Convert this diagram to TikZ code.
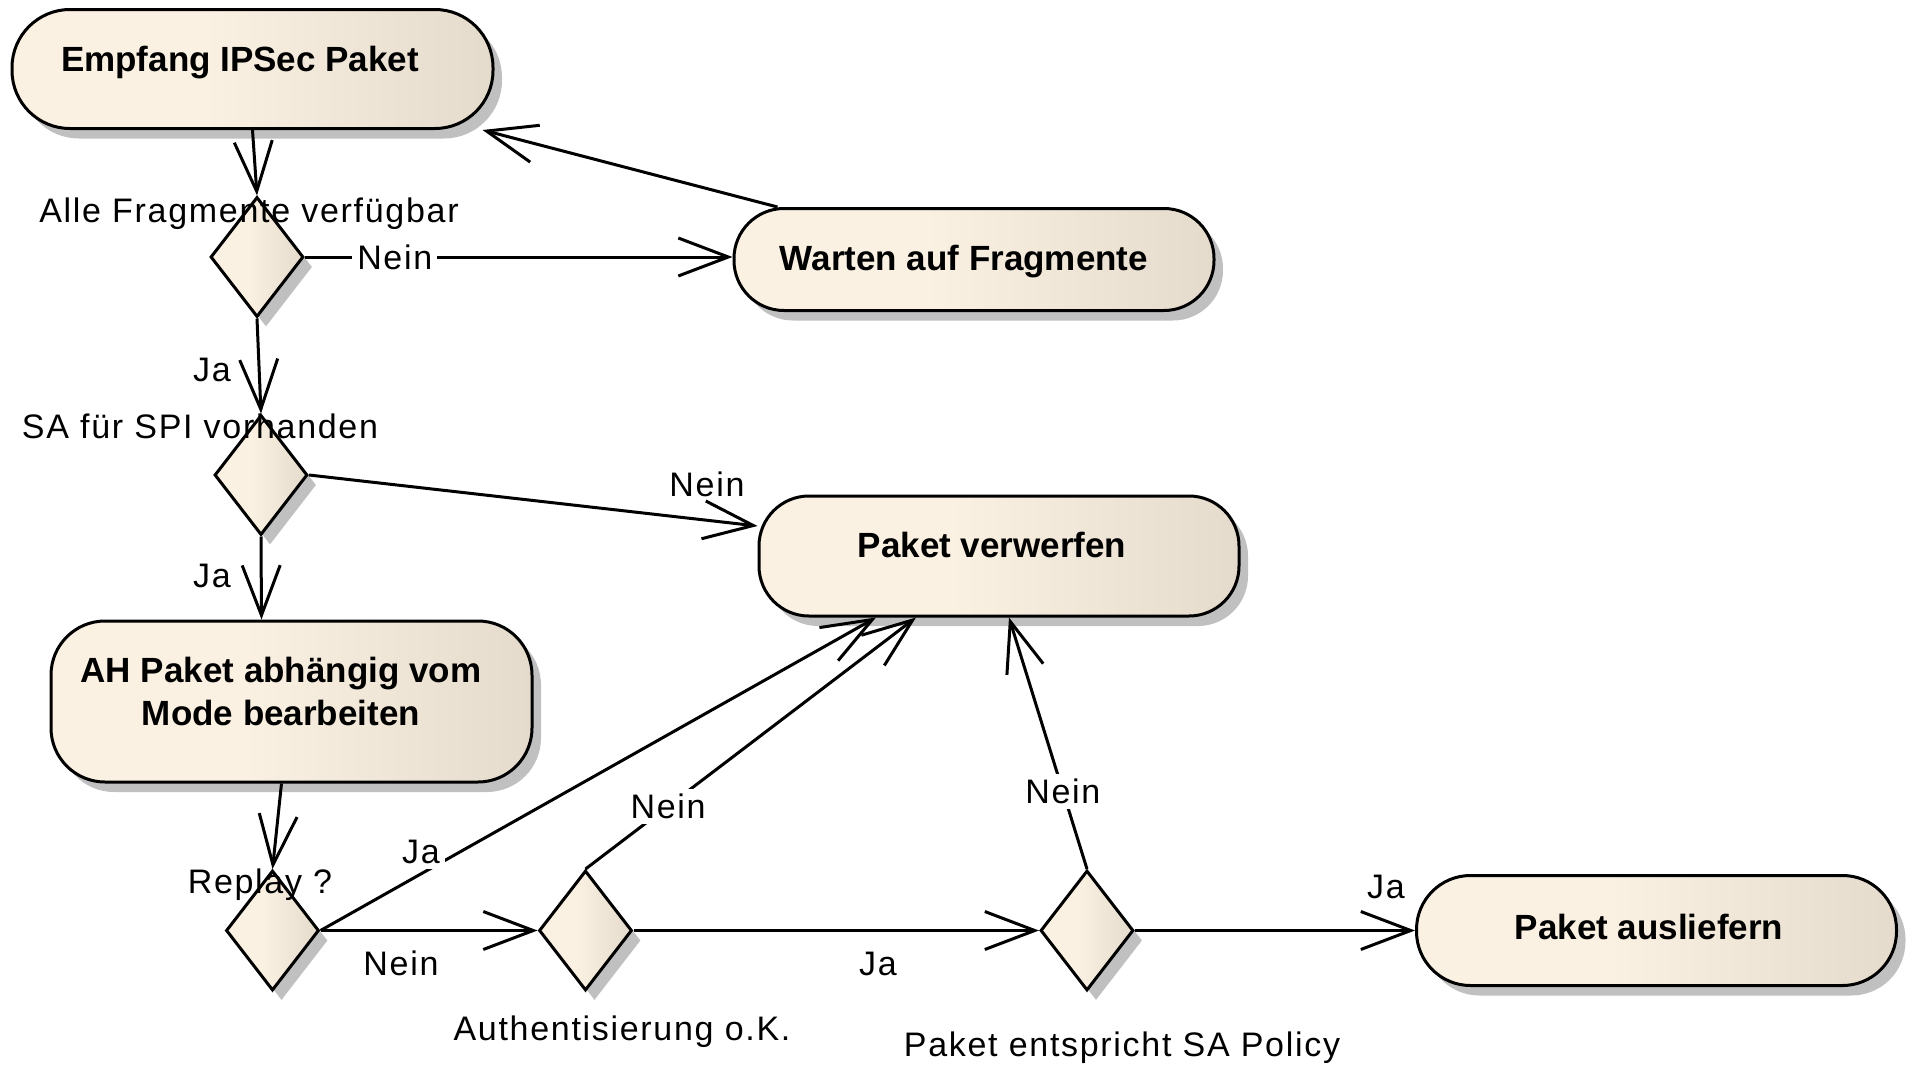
\documentclass[tikz,border=0pt]{standalone}
\usepackage{fontspec}
\setmainfont{Liberation Sans}
\usetikzlibrary{arrows.meta,shapes.geometric,shadows,calc}
\definecolor{cL}{HTML}{FAF1E3}
\definecolor{cR}{HTML}{E5DBCC}
\definecolor{shd}{HTML}{C0C0C0}
\pgfdeclarehorizontalshading{actshade}{100bp}{color(0bp)=(cL); color(45bp)=(cL); color(75bp)=(cR); color(100bp)=(cR)}
\tikzset{
  shadowed/.style={drop shadow={shadow xshift=4.5pt, shadow yshift=-5pt, fill=shd, opacity=1}},
  act/.style={rectangle, draw=black, line width=1.5pt, shade, shading=actshade, shadowed, inner sep=0pt},
  dec/.style={diamond, draw=black, line width=1.5pt, shade, shading=actshade, shadowed,
    minimum width=46.5pt, minimum height=60pt, inner sep=0pt},
  acttxt/.style={font=\bfseries\fontsize{17.5}{21.5}\selectfont, align=center, inner sep=0pt, anchor=base},
  lbl/.style={font=\fontsize{17}{20}\selectfont\addfontfeatures{LetterSpace=5}, inner sep=0pt},
  onl/.style={lbl, fill=white, inner sep=2.5pt},
  flow/.style={line width=1.5pt, -{Straight Barb[length=25pt,width=19pt]}},
}
\begin{document}
\begin{tikzpicture}[x=0.5pt,y=-0.5pt]
\useasboundingbox (0,0) rectangle (1908,1066);

% activities
\node[act, minimum width=240.5pt, minimum height=59.5pt, rounded corners=29pt] (e1) at (252.5,69) {};
\node[act, minimum width=240pt, minimum height=51pt, rounded corners=25pt] (w) at (974,259.5) {};
\node[act, minimum width=240pt, minimum height=60pt, rounded corners=25pt] (v) at (999,556) {};
\node[act, minimum width=240.5pt, minimum height=80.5pt, rounded corners=27pt] (a) at (291.5,701.5) {};
\node[act, minimum width=240pt, minimum height=55pt, rounded corners=27pt] (o) at (1656.5,930.5) {};

% decisions
\node[dec] (d1) at (257,257) {};
\node[dec] (d2) at (261,475) {};
\node[dec] (d3) at (272.5,930.5) {};
\node[dec] (d4) at (585.5,930.5) {};
\node[dec] (d5) at (1087,930.5) {};

% activity texts
\node[acttxt] (e1t) at (240,71) {Empfang IPSec Paket};
\node[acttxt] (wt) at (964,270) {Warten auf Fragmente};
\node[acttxt] (vt) at (992,557) {Paket verwerfen};
\node[acttxt, anchor=center] (at) at (281,691) {AH Paket abhängig vom\\Mode bearbeiten};
\node[acttxt] (ot) at (1649,939) {Paket ausliefern};

% connectors
\draw[flow] (e1.south) -- (d1.north);
\draw[flow] (d1.east) -- (d1.east -| w.west) node[onl, pos=0.21] (n1) {Nein};
\draw[flow] ([xshift=22.5pt]w.north west) -- ([xshift=-6pt]e1.south east);
\draw[flow] (d1.south) -- (d2.north);
\draw[flow] (d2.east) -- ([yshift=15pt]v.west);
\draw[flow] (d2.south) -- ([xshift=-15pt]a.north);
\draw[flow] ([xshift=-5pt]a.south) -- (d3.north);
\draw[flow] (d3.east) -- ([xshift=-61.5pt]v.south);
\draw[flow] (d3.east) -- (d4.west);
\draw[flow] (d4.north) -- ([xshift=-41.5pt]v.south) node[onl, pos=0.25] (n4) {Nein};
\draw[flow] (d4.east) -- (d5.west);
\draw[flow] (d5.north) -- ([xshift=5pt]v.south) node[onl, pos=0.31] (n5) {Nein};
\draw[flow] (d5.east) -- (o.west);

% connector labels
\node[lbl] (j1) at (212,370) {Ja};
\node[lbl] (j2) at (212,576) {Ja};
\node[lbl] (n2) at (707,484) {Nein};
\node[onl] (j3) at (421,852) {Ja};
\node[lbl, anchor=base] (n3) at (401,975) {Nein};
\node[lbl] (j4) at (878,964) {Ja};
\node[lbl, anchor=base] (j5) at (1386,898) {Ja};

% decision labels
\node[lbl, anchor=base] (l1) at (249,222) {Alle Fragmente verfügbar};
\node[lbl, anchor=base] (l2) at (200,438) {SA für SPI vorhanden};
\node[lbl, anchor=base] (l3) at (260,893) {Replay ?};
\node[lbl, anchor=base] (l4) at (622,1040) {Authentisierung o.K.};
\node[lbl, anchor=base] (l5) at (1122,1056) {Paket entspricht SA Policy};
\end{tikzpicture}
\end{document}
